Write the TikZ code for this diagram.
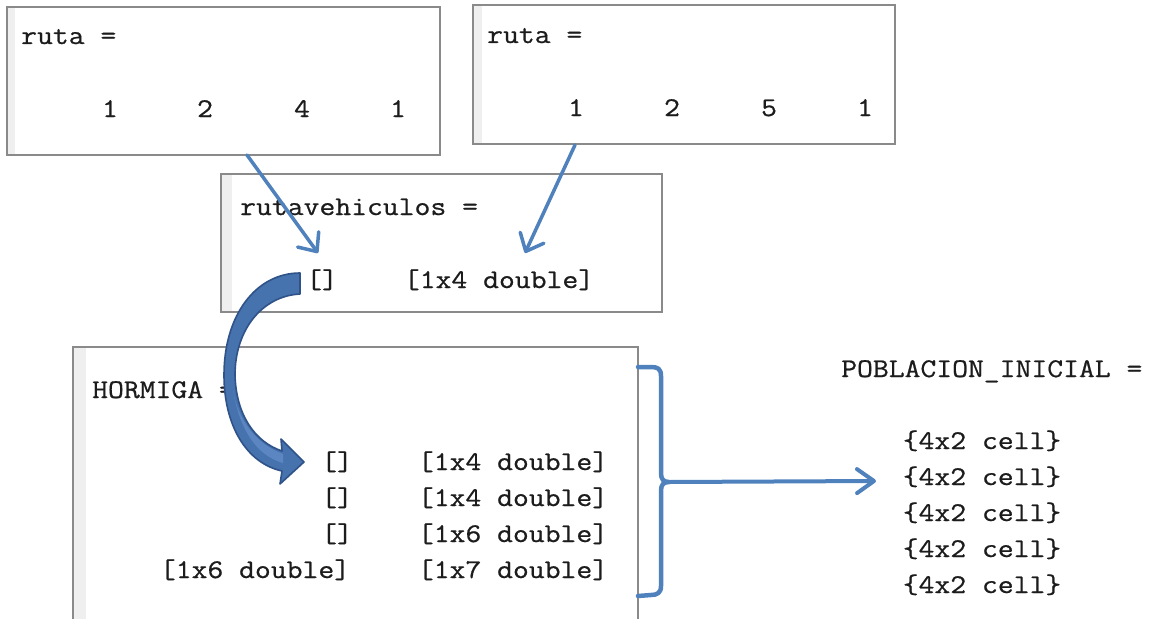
\documentclass[tikz,border=0pt]{standalone}
\usepackage{fontspec}
\newfontfamily\consolefont[FakeStretch=1.14,FakeBold=0.7]{Latin Modern Mono}
\usetikzlibrary{arrows.meta}
\definecolor{accent}{HTML}{4F81BD}
\definecolor{framegray}{HTML}{8A8A8A}
\definecolor{gutterfill}{HTML}{EFEFEF}
\definecolor{ink}{HTML}{1C1C1C}
\definecolor{bigfill}{HTML}{4672AE}
\definecolor{bigedge}{HTML}{2F5288}
\definecolor{bigshine}{HTML}{5B86C2}

\begin{document}
\begin{tikzpicture}[x=1pt,y=-1pt,
  panel/.style={draw=framegray,line width=1.5pt,fill=white},
  gutter/.style={fill=gutterfill},
  txt/.style={inner sep=0pt,text=ink,font=\consolefont\fontsize{27}{32}\selectfont},
  lft/.style={txt,anchor=base west},
  ctr/.style={txt,anchor=base},
  link/.style={draw=accent,line width=3.5pt,line cap=round,line join=round,
    -{Straight Barb[length=15pt,width=26pt,round]}},
  brace/.style={draw=accent,line width=4.5pt,line cap=round,line join=round},
  bigarrow/.style={fill=bigfill,draw=bigedge,line width=1.6pt,line join=round}
]
\useasboundingbox (0,0) rectangle (1153,618);
\clip (0,0) rectangle (1153,618);

% console panels
\draw[panel] (7,7) rectangle (440,155);
\fill[gutter] (7.75,7.75) rectangle (15,154.25);
\draw[panel] (473,5) rectangle (895,144);
\fill[gutter] (473.75,5.75) rectangle (482,143.25);
\draw[panel] (221,174) rectangle (662,312);
\fill[gutter] (221.75,174.75) rectangle (232,311.25);
\draw[panel] (73,347) rectangle (638,640);
\fill[gutter] (73.75,347.75) rectangle (86,640);

% first route
\node[lft] (r1name) at (21,44) {ruta =};
\node[ctr] (r1a) at (110,117) {1};
\node[ctr] (r1b) at (205,117) {2};
\node[ctr] (r1c) at (302,117) {4};
\node[ctr] (r1d) at (398,117) {1};

% second route
\node[lft] (r2name) at (487,43) {ruta =};
\node[ctr] (r2a) at (576,116) {1};
\node[ctr] (r2b) at (672,116) {2};
\node[ctr] (r2c) at (769,116) {5};
\node[ctr] (r2d) at (865,116) {1};

% vehicle routes
\node[lft] (rvname) at (240,215) {rutavehiculos =};
\node[ctr] (rvA) at (322,288) {[]};
\node[ctr] (rvB) at (499,288) {[1x4 double]};

% ant
\node[lft] (hname) at (92,398) {HORMIGA =};
\node[ctr] (h1a) at (337,470) {[]};
\node[ctr] (h1b) at (513,470) {[1x4 double]};
\node[ctr] (h2a) at (337,506) {[]};
\node[ctr] (h2b) at (513,506) {[1x4 double]};
\node[ctr] (h3a) at (337,542) {[]};
\node[ctr] (h3b) at (513,542) {[1x6 double]};
\node[ctr] (h4a) at (255,578) {[1x6 double]};
\node[ctr] (h4b) at (513,578) {[1x7 double]};

% initial population
\node[lft] (pname) at (841,377) {POBLACION\_INICIAL =};
\node[ctr] (p1) at (982,449) {\{4x2 cell\}};
\node[ctr] (p2) at (982,485) {\{4x2 cell\}};
\node[ctr] (p3) at (982,521) {\{4x2 cell\}};
\node[ctr] (p4) at (982,557) {\{4x2 cell\}};
\node[ctr] (p5) at (982,593) {\{4x2 cell\}};

% connector end points
\coordinate (a1s) at (247,155);
\coordinate (a1e) at (318,253);
\coordinate (a2s) at (575,145);
\coordinate (a2e) at (525,253);
\coordinate (brtop) at (638,367);
\coordinate (brbot) at (638,596);
\coordinate (brmid) at (669,482);
\coordinate (pin) at (876,481);

% routes into the vehicle cell array
\draw[link] (a1s) -- (a1e);
\draw[link] (a2s) -- (a2e);

% curved block arrow from rutavehiculos to HORMIGA
\filldraw[bigarrow]
  (300,273) -- (300,294)
  .. controls (262,296) and (235,330) .. (235,375)
  .. controls (236,415) and (255,442) .. (282,451)
  -- (281,439) -- (304,462) -- (280,484) -- (282,471)
  .. controls (246,463) and (224,425) .. (224,375)
  .. controls (224,315) and (256,273) .. (300,273) -- cycle;
% lighter inner band along the lower part of the arrow
\fill[bigshine] (233,390) .. controls (238,420) and (256,444) .. (283,454)
  -- (283,463) .. controls (258,456) and (240,432) .. (233,390) -- cycle;

% bracket gathering the ant rows
\draw[brace] (brtop) -- (651,367) .. controls (658,367) and (661,369) .. (661,376)
  -- (661,473) .. controls (661,479) and (663,482) .. (brmid)
  .. controls (663,482) and (661,485) .. (661,491)
  -- (661,586) .. controls (661,593) and (657,595) .. (651,595) -- (brbot);
\draw[link,line width=4pt,-{Straight Barb[length=17pt,width=24pt,round]}] (brmid) -- (pin);
\end{tikzpicture}
\end{document}
